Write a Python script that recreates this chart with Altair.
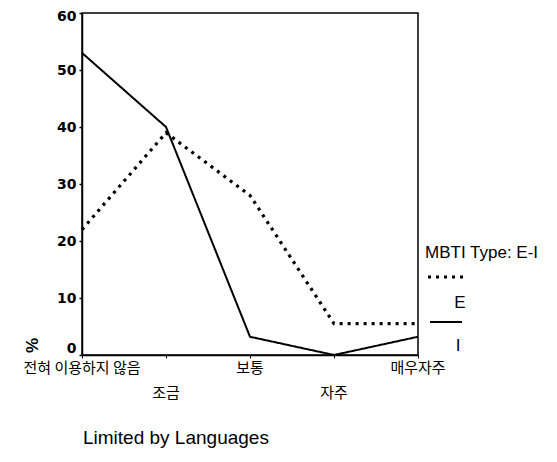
import altair as alt
import pandas as pd

categories = ["전혀 이용하지 않음", "조금", "보통", "자주", "매우자주"]
e_values = [22, 39, 28, 5.5, 5.5]
i_values = [53, 40, 3.2, 0, 3.2]
y_ticks = [0, 10, 20, 30, 40, 50, 60]
legend_title = "MBTI Type: E-I"
series_names = ["E", "I"]
caption = "Limited by Languages"

df = pd.DataFrame({
    "cat": categories * 2,
    "val": e_values + i_values,
    "type": ["E"] * len(categories) + ["I"] * len(categories),
})
cat_df = pd.DataFrame({"cat": categories, "idx": list(range(len(categories)))})

W, H = 336, 342
KFONT = "Noto Sans CJK KR"
LFONT = "Liberation Sans"

x_enc = alt.X(
    "cat:N", sort=categories,
    scale=alt.Scale(type="point", padding=0),
    axis=alt.Axis(labels=False, title=None, ticks=True, tickSize=3,
                  tickColor="black", domainColor="black", domainWidth=1.5,
                  grid=False),
)
y_enc = alt.Y(
    "val:Q",
    scale=alt.Scale(domain=[0, 60], nice=False),
    axis=alt.Axis(values=y_ticks, tickSize=3, tickColor="black", tickWidth=1.5,
                  domainColor="black", domainWidth=1.5, grid=False,
                  labelFont="DejaVu Sans", labelFontSize=14, labelFontWeight="bold",
                  labelColor="black", labelPadding=3,
                  labelBaseline={"condition": [
                      {"test": "datum.value == 0", "value": "bottom"},
                      {"test": "datum.value == 60", "value": "top"}],
                      "value": "middle"},
                  labelOffset={"condition": {"test": "datum.value == 60", "value": -4}, "value": 0},
                  title="%", titleFont=LFONT, titleFontSize=17, titleFontWeight="bold",
                  titleColor="black", titleX=-50, titleY=332, titleAngle=270,
                  titleAlign="center", titleBaseline="middle"),
)

lines = alt.Chart(df).mark_line(color="black").encode(
    x=x_enc,
    y=y_enc,
    strokeDash=alt.StrokeDash("type:N", scale=alt.Scale(domain=series_names, range=[[3, 5], [1, 0]]), legend=None),
    strokeWidth=alt.StrokeWidth("type:N", scale=alt.Scale(domain=series_names, range=[3.2, 2]), legend=None),
)

labels_row1 = alt.Chart(cat_df).transform_filter("datum.idx % 2 == 0").mark_text(
    font=KFONT, fontSize=15, color="black", baseline="middle", align="center"
).encode(x=alt.X("cat:N", sort=categories), y=alt.value(355), text="cat:N")

labels_row2 = alt.Chart(cat_df).transform_filter("datum.idx % 2 == 1").mark_text(
    font=KFONT, fontSize=15, color="black", baseline="middle", align="center"
).encode(x=alt.X("cat:N", sort=categories), y=alt.value(380), text="cat:N")

leg_df = pd.DataFrame({"title": [legend_title], "e": [series_names[0]], "i": [series_names[1]], "cap": [caption]})

leg_title = alt.Chart(leg_df).mark_text(font=LFONT, fontSize=17, align="left", baseline="middle", color="black").encode(
    x=alt.value(343), y=alt.value(240), text="title:N")
leg_e_sw = alt.Chart(leg_df).mark_rule(color="black", strokeWidth=3.2, strokeDash=[3, 5]).encode(
    x=alt.value(346), x2=alt.value(382), y=alt.value(264))
leg_e_tx = alt.Chart(leg_df).mark_text(font=LFONT, fontSize=17, align="center", baseline="middle", color="black").encode(
    x=alt.value(378), y=alt.value(290), text="e:N")
leg_i_sw = alt.Chart(leg_df).mark_rule(color="black", strokeWidth=2).encode(
    x=alt.value(348), x2=alt.value(380), y=alt.value(309))
leg_i_tx = alt.Chart(leg_df).mark_text(font=LFONT, fontSize=17, align="center", baseline="middle", color="black").encode(
    x=alt.value(376), y=alt.value(333), text="i:N")
cap_tx = alt.Chart(leg_df).mark_text(font=LFONT, fontSize=19, align="left", baseline="middle", color="black").encode(
    x=alt.value(1), y=alt.value(425), text="cap:N")

chart = alt.layer(
    lines, labels_row1, labels_row2, leg_title, leg_e_sw, leg_e_tx, leg_i_sw, leg_i_tx, cap_tx
).properties(
    width=W, height=H,
    autosize=alt.AutoSizeParams(type="none"),
    padding={"left": 74, "top": 5, "right": 123, "bottom": 95},
    background="white",
).configure_view(stroke="black", strokeWidth=1.5)

chart.save("out.html", embed_options={"renderer": "svg", "actions": False})
